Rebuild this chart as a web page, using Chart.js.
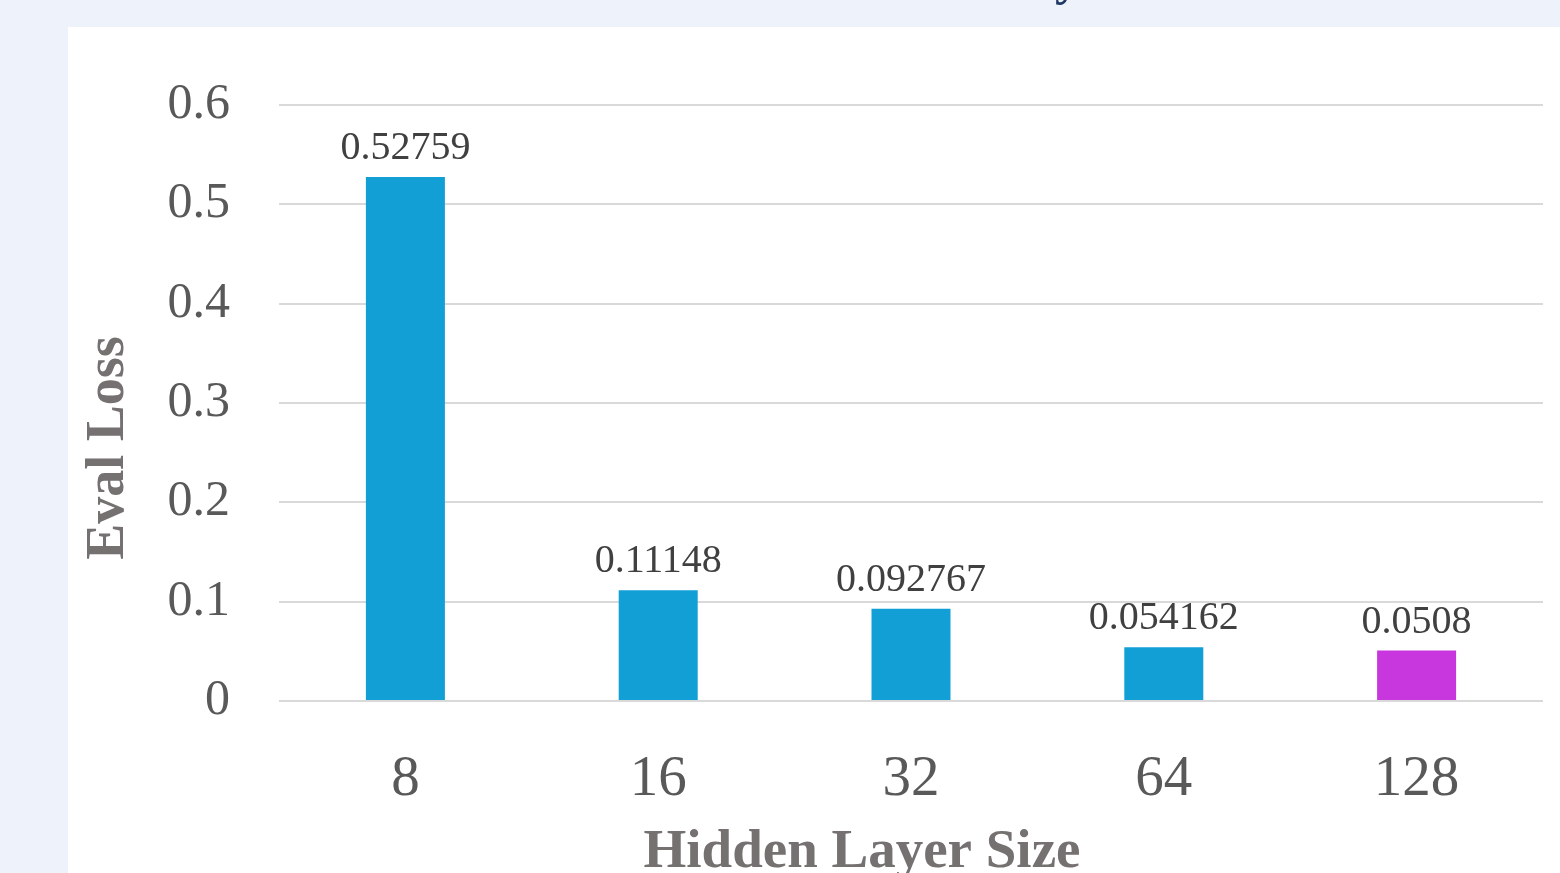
<!DOCTYPE html>
<html>
<head>
<meta charset="utf-8">
<title>Eval Loss vs Hidden Layer Size</title>
<script src="https://cdn.jsdelivr.net/npm/chart.js@4/dist/chart.umd.min.js"></script>
<style>
  html, body { margin: 0; padding: 0; width: 1560px; height: 873px; overflow: hidden; background: #eef2fa; }
  #panel { position: absolute; left: 68px; top: 27px; width: 1492px; height: 846px; background: #ffffff; }
  #heading { position: absolute; top: -53px; left: 0; white-space: nowrap;
             font: normal bold 50px "Liberation Serif", serif; color: #1f3864; line-height: 60px; }
  #wrap { position: absolute; left: 0; top: 0; width: 1560px; height: 873px; }
</style>
</head>
<body>
<div id="panel"></div>
<div id="heading">Eval Loss vs Hidden Layer Size</div>
<div id="wrap"><canvas id="chart" width="1560" height="873"></canvas></div>
<script>
// Hidden layer sizes and the evaluation loss measured for each
const categories = ['8', '16', '32', '64', '128'];
const evalLoss = [0.52759, 0.11148, 0.092767, 0.054162, 0.0508];
const valueLabels = ['0.52759', '0.11148', '0.092767', '0.054162', '0.0508'];
const barColors = ['#119fd6', '#119fd6', '#119fd6', '#119fd6', '#c836de'];
const yTickLabels = ['0', '0.1', '0.2', '0.3', '0.4', '0.5', '0.6'];
const xTitle = 'Hidden Layer Size';
const yTitle = 'Eval Loss';

const SERIF = '"Liberation Serif", "Times New Roman", serif';

// Value labels above each bar
const barValueLabels = {
  id: 'barValueLabels',
  afterDatasetsDraw(chart) {
    const ctx = chart.ctx;
    const meta = chart.getDatasetMeta(0);
    ctx.save();
    ctx.font = '40px ' + SERIF;
    ctx.fillStyle = '#404040';
    ctx.textAlign = 'center';
    ctx.textBaseline = 'alphabetic';
    meta.data.forEach((bar, i) => {
      ctx.fillText(valueLabels[i], bar.x, bar.y - 18);
    });
    ctx.restore();
  }
};

// Axis titles
const axisTitles = {
  id: 'axisTitles',
  afterDraw(chart) {
    const ctx = chart.ctx;
    ctx.save();
    ctx.fillStyle = '#767171';
    ctx.font = 'bold 55px ' + SERIF;
    ctx.textAlign = 'center';
    ctx.textBaseline = 'alphabetic';
    ctx.fillText(xTitle, 862, 867);
    ctx.translate(123, 448);
    ctx.rotate(-Math.PI / 2);
    ctx.font = 'bold 54px ' + SERIF;
    ctx.fillText(yTitle, 0, 0);
    ctx.restore();
  }
};

new Chart(document.getElementById('chart'), {
  type: 'bar',
  data: {
    labels: categories,
    datasets: [{
      data: evalLoss,
      backgroundColor: barColors,
      borderWidth: 0,
      barPercentage: 0.3125,
      categoryPercentage: 1.0
    }]
  },
  options: {
    responsive: false,
    animation: false,
    devicePixelRatio: 1,
    layout: { padding: { left: 0, right: 17, top: 105, bottom: 0 } },
    plugins: {
      legend: { display: false },
      tooltip: { enabled: false },
      title: { display: false }
    },
    scales: {
      x: {
        grid: { display: false, drawTicks: false },
        border: { display: false },
        ticks: {
          color: '#595959',
          font: { family: SERIF, size: 57 },
          padding: 45,
          maxRotation: 0
        },
        afterFit(scale) { scale.height = 172; }
      },
      y: {
        min: 0,
        max: 0.6,
        grid: { color: '#d9d9d9', lineWidth: 2, drawTicks: false },
        border: { display: false },
        ticks: {
          stepSize: 0.1,
          color: '#595959',
          font: { family: SERIF, size: 50 },
          padding: 49,
          callback: (value, index) => yTickLabels[index]
        },
        afterFit(scale) { scale.width = 279; }
      }
    }
  },
  plugins: [barValueLabels, axisTitles]
});

// Place the heading so the "y" of "Layer" sits at its spot above the panel
(function () {
  const h = document.getElementById('heading');
  const text = h.textContent;
  const idx = text.indexOf('Layer') + 2;
  h.innerHTML = text.slice(0, idx) + '<span id="yk">y</span>' + text.slice(idx + 1);
  const y = document.getElementById('yk').getBoundingClientRect();
  const hr = h.getBoundingClientRect();
  h.style.left = (1055 - (y.left - hr.left)) + 'px';
})();
</script>
</body>
</html>
